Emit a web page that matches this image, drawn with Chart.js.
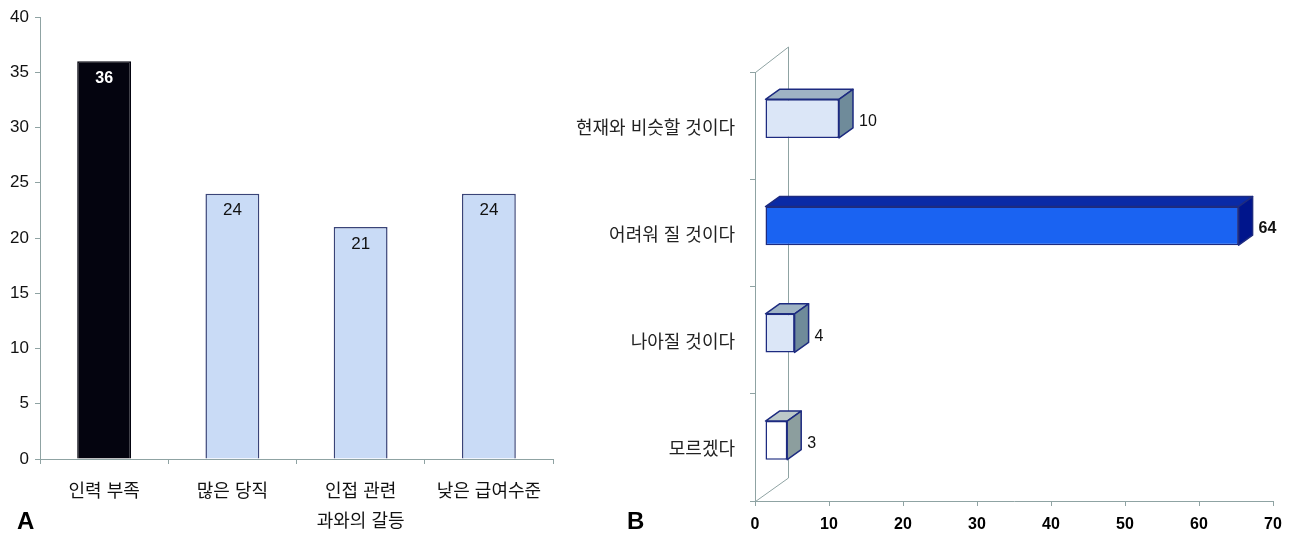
<!DOCTYPE html>
<html>
<head>
<meta charset="utf-8">
<script src="https://cdn.jsdelivr.net/npm/chart.js@4.4.1/dist/chart.umd.min.js"></script>
<style>
body { margin: 0; background: #fff; width: 1295px; height: 533px; position: relative; overflow: hidden; }
#chartA { position: absolute; left: 0; top: 0; }
#chartB { position: absolute; left: 560px; top: 0; }
.tag { position: absolute; font: bold 24px "Liberation Sans", Arial, sans-serif; color: #000; }
</style>
</head>
<body>
<canvas id="chartA" width="600" height="533"></canvas>
<canvas id="chartB" width="735" height="533"></canvas>
<div class="tag" style="left:17px;top:507px">A</div>
<div class="tag" style="left:627px;top:507px">B</div>
<script>
// panel A
var catsA = ["인력 부족", "많은 당직", ["인접 관련", "과와의 갈등"], "낮은 급여수준"];
var valsA = [36, 24, 21, 24];
var colorsA = ["#04040f", "#c9dbf6", "#c9dbf6", "#c9dbf6"];

// panel B
var catsB = ["현재와 비슷할 것이다", "어려워 질 것이다", "나아질 것이다", "모르겠다"];
var valsB = [10, 64, 4, 3];
var faceB = ["#dbe6f7", "#1a63f2", "#dbe6f7", "#ffffff"];
var topB  = ["#9fb3c4", "#0a2aa6", "#9fb3c4", "#bcc9c9"];
var sideB = ["#6f8b9a", "#00158c", "#6f8b9a", "#8c9e9e"];

var FONT = '"Liberation Sans", Arial, "Noto Sans CJK KR", sans-serif';
var AXIS = "#8fa3a3";
var NAVY = "#1d2b80";

Chart.defaults.font.family = FONT;
Chart.defaults.color = "#111";

// value labels for A
var labelsA = {
    id: "labelsA",
    afterDatasetsDraw: function (chart) {
        var ctx = chart.ctx;
        var meta = chart.getDatasetMeta(0);
        ctx.save();
        ctx.textAlign = "center";
        ctx.textBaseline = "middle";
        meta.data.forEach(function (bar, i) {
            if (i == 0) {
                ctx.font = "bold 16px " + FONT;
                ctx.fillStyle = "#fff";
            } else {
                ctx.font = "17px " + FONT;
                ctx.fillStyle = "#111";
            }
            ctx.fillText(valsA[i], bar.x, bar.y + 17);
        });
        ctx.restore();
    }
};

new Chart("chartA", {
    type: "bar",
    data: {
        labels: catsA,
        datasets: [{
            data: valsA,
            backgroundColor: colorsA,
            borderColor: ["#04040f", "#3a4478", "#3a4478", "#3a4478"],
            borderWidth: 1.5,
            categoryPercentage: 1,
            barPercentage: 0.42
        }]
    },
    options: {
        responsive: false,
        animation: false,
        layout: { padding: { top: 17, right: 47 } },
        plugins: { legend: { display: false }, tooltip: { enabled: false } },
        scales: {
            y: {
                min: 0, max: 40,
                ticks: { stepSize: 5, font: { size: 17 }, color: "#111", padding: 6 },
                grid: { drawOnChartArea: false, tickLength: 5, color: AXIS },
                border: { color: AXIS },
                afterFit: function (s) { s.width = 40; }
            },
            x: {
                ticks: { font: { size: 18, lineHeight: 1.667 }, color: "#111", padding: 13 },
                grid: { drawOnChartArea: false, tickLength: 5, color: AXIS },
                border: { color: AXIS },
                afterFit: function (s) { s.height = 74; }
            }
        }
    },
    plugins: [labelsA]
});

// 3D look for B
var DX = 10, DY = -7;     // bar front offset
var BX = 14, BY = -10;    // bar depth
var WX = 33, WY = -24;    // back wall offset

var box3d = {
    id: "box3d",
    beforeDatasetsDraw: function (chart) {
        var ctx = chart.ctx;
        var a = chart.chartArea;
        ctx.save();
        ctx.strokeStyle = AXIS;
        ctx.lineWidth = 1;
        ctx.beginPath();
        ctx.moveTo(a.left + 0.5, a.top + 0.5);
        ctx.lineTo(a.left + WX + 0.5, a.top + WY - 1);
        ctx.lineTo(a.left + WX + 0.5, a.bottom + WY + 1);
        ctx.lineTo(a.left + 0.5, a.bottom + 0.5);
        ctx.stroke();
        ctx.restore();
        ctx.save();
        ctx.translate(DX, DY);
    },
    afterDatasetsDraw: function (chart) {
        var ctx = chart.ctx;
        var meta = chart.getDatasetMeta(0);
        meta.data.forEach(function (bar, i) {
            var x0 = bar.base, x1 = bar.x;
            var y0 = bar.y - bar.height / 2, y1 = bar.y + bar.height / 2;
            ctx.lineWidth = 1.5;
            ctx.strokeStyle = NAVY;
            ctx.lineJoin = "round";
            // top face
            ctx.beginPath();
            ctx.moveTo(x0, y0);
            ctx.lineTo(x0 + BX, y0 + BY);
            ctx.lineTo(x1 + BX, y0 + BY);
            ctx.lineTo(x1, y0);
            ctx.closePath();
            ctx.fillStyle = topB[i];
            ctx.fill();
            ctx.stroke();
            // side face
            ctx.beginPath();
            ctx.moveTo(x1, y0);
            ctx.lineTo(x1 + BX, y0 + BY);
            ctx.lineTo(x1 + BX, y1 + BY);
            ctx.lineTo(x1, y1);
            ctx.closePath();
            ctx.fillStyle = sideB[i];
            ctx.fill();
            ctx.stroke();
        });
        ctx.restore();

        ctx.save();
        ctx.textAlign = "left";
        ctx.textBaseline = "middle";
        ctx.fillStyle = "#111";
        meta.data.forEach(function (bar, i) {
            ctx.font = (valsB[i] == 64 ? "bold " : "") + "16px " + FONT;
            ctx.fillText(valsB[i], bar.x + DX + BX + 6, bar.y + DY + 3);
        });
        ctx.restore();
    }
};

new Chart("chartB", {
    type: "bar",
    data: {
        labels: catsB,
        datasets: [{
            data: valsB,
            backgroundColor: faceB,
            borderColor: NAVY,
            borderWidth: 1.5,
            borderSkipped: false,
            categoryPercentage: 1,
            barPercentage: 0.36
        }]
    },
    options: {
        indexAxis: "y",
        responsive: false,
        animation: false,
        layout: { padding: { top: 72, right: 22 } },
        plugins: { legend: { display: false }, tooltip: { enabled: false } },
        scales: {
            x: {
                min: 0, max: 70,
                ticks: { stepSize: 10, font: { size: 16, weight: "bold" }, color: "#000", padding: 9 },
                grid: { drawOnChartArea: false, tickLength: 5, color: AXIS },
                border: { color: AXIS },
                afterFit: function (s) { s.height = 32; }
            },
            y: {
                ticks: { font: { size: 18 }, color: "#222", padding: 15, labelOffset: 3 },
                grid: { drawOnChartArea: false, tickLength: 5, color: AXIS },
                border: { color: AXIS },
                afterFit: function (s) { s.width = 195; }
            }
        }
    },
    plugins: [box3d]
});
</script>
</body>
</html>
